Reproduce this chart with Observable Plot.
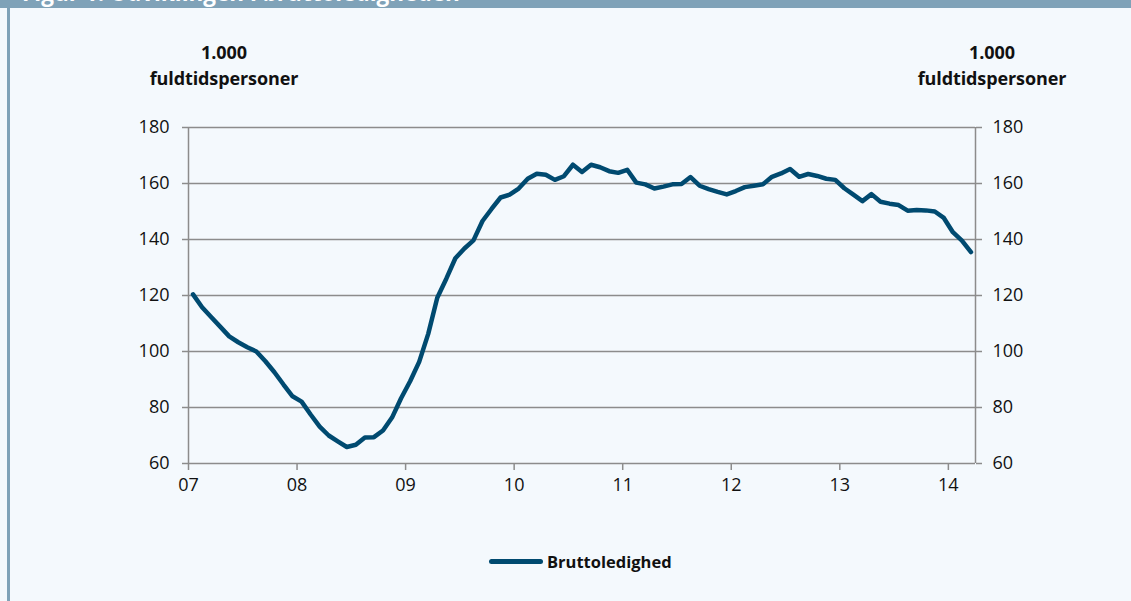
<!DOCTYPE html>
<html><head><meta charset="utf-8">
<script src="https://cdn.jsdelivr.net/npm/d3@7"></script>
<script src="https://cdn.jsdelivr.net/npm/@observablehq/plot@0.6"></script>
<style>
html,body{margin:0;padding:0}
body{width:1131px;height:601px;overflow:hidden;background:#f4f9fd;position:relative;font-family:'Open Sans',sans-serif}
#topbar{position:absolute;left:0;top:0;width:1131px;height:8px;background:#7fa2b8;overflow:hidden}
#title{position:absolute;left:22px;top:-22px;color:#fff;font:bold 22.5px 'Open Sans',sans-serif;white-space:nowrap;line-height:30px}
#leftbar{position:absolute;left:7px;top:0;width:3px;height:601px;background:#7fa2b8}
#chart{position:absolute;left:0;top:0}
.unit{position:absolute;width:220px;text-align:center;font:bold 18px 'Open Sans',sans-serif;color:#111;line-height:26px;letter-spacing:-0.1px}
#legend{position:absolute;left:489px;top:550px;display:flex;align-items:center;font:bold 16.5px 'Open Sans',sans-serif;color:#111}
#legend .sw{width:54px;height:5px;border-radius:3px;margin-right:4px}
</style></head>
<body>
<div id="topbar"><div id="title">Figur 1. Udviklingen i bruttoledigheden</div></div>
<div id="leftbar"></div>
<div id="chart"></div>
<div class="unit" style="left:114px;top:39px">1.000<br>fuldtidspersoner</div>
<div class="unit" style="left:882px;top:39px">1.000<br>fuldtidspersoner</div>
<div id="legend"><span class="sw"></span><span id="legtext"></span></div>
<script>
// Monthly gross unemployment, Jan 2007 – Mar 2014 (1.000 full-time persons)
const startYear = 2007;
const values = [
  120.4,115.8,112.3,108.9,105.4,103.3,101.5,100.0,96.5,92.6,
  88.2,84.0,82.1,77.5,73.2,70.0,67.9,65.9,66.7,69.3,
  69.4,71.8,76.4,83.3,89.4,96.3,106.3,119.2,126.0,133.3,
  136.8,139.7,146.6,150.9,155.0,156.0,158.2,161.7,163.5,163.1,
  161.3,162.6,166.7,164.1,166.7,165.8,164.4,163.8,164.9,160.3,
  159.7,158.2,158.9,159.7,159.8,162.3,159.2,158.0,157.0,156.1,
  157.3,158.7,159.2,159.7,162.4,163.6,165.2,162.4,163.4,162.7,
  161.7,161.3,158.3,156.0,153.7,156.2,153.5,152.8,152.3,150.3,
  150.5,150.4,150.0,147.7,142.6,139.6,135.5
];
const seriesName = "Bruttoledighed";
const yTicks = [60, 80, 100, 120, 140, 160, 180];
const xTicks = [2007, 2008, 2009, 2010, 2011, 2012, 2013, 2014];
const xTickLabels = ["07", "08", "09", "10", "11", "12", "13", "14"];
const lineColor = "#004a70";
const gridColor = "#8c8c8c";

const data = values.map((v, i) => ({x: startYear + (i + 0.5) / 12, y: v}));
const xDomain = [startYear, startYear + values.length / 12];

const plot = Plot.plot({
  width: 1131,
  height: 601,
  marginLeft: 188,
  marginRight: 156,
  marginTop: 127,
  marginBottom: 138,
  x: {domain: xDomain},
  y: {domain: [60, 180]},
  style: {background: "transparent", fontFamily: "'Open Sans', sans-serif", fontSize: "18px", color: "#111", overflow: "visible"},
  marks: [
    Plot.gridY(yTicks, {stroke: gridColor, strokeOpacity: 1, strokeWidth: 1.5}),
    Plot.ruleX(xDomain, {stroke: gridColor, strokeWidth: 1.5}),
    Plot.axisY(yTicks, {anchor: "left", tickSize: 6, tickPadding: 13, stroke: gridColor, strokeWidth: 1.5, label: null}),
    Plot.axisY(yTicks, {anchor: "right", tickSize: 6, tickPadding: 11, stroke: gridColor, strokeWidth: 1.5, label: null}),
    Plot.axisX(xTicks, {anchor: "bottom", tickSize: 7, tickPadding: 8, stroke: gridColor, strokeWidth: 1.5, label: null,
      tickFormat: d => xTickLabels[xTicks.indexOf(d)]}),
    Plot.lineY(data, {x: "x", y: "y", stroke: lineColor, strokeWidth: 4.5, strokeLinejoin: "round", strokeLinecap: "round"})
  ]
});
document.getElementById("chart").appendChild(plot);
document.querySelector("#legend .sw").style.background = lineColor;
document.getElementById("legtext").textContent = seriesName;
</script>
</body></html>
